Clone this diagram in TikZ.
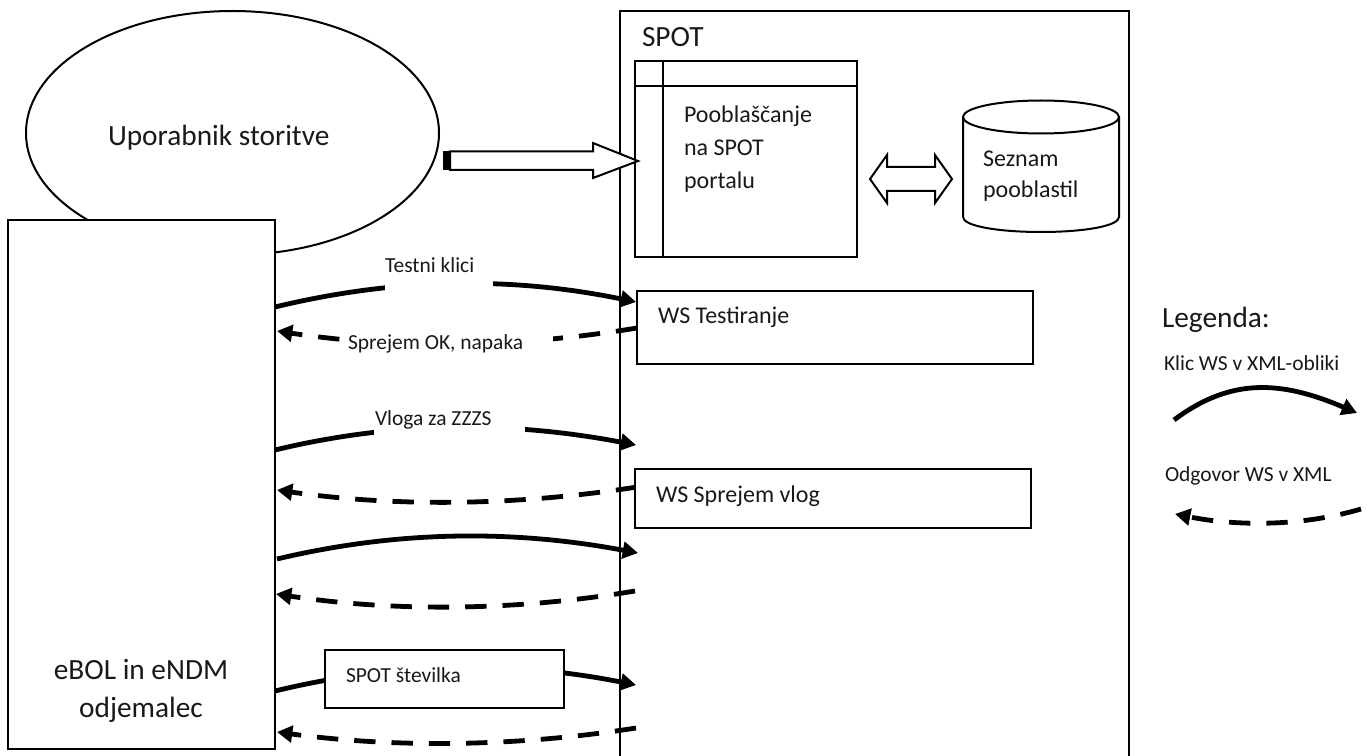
\documentclass[tikz,border=0pt]{standalone}
\usepackage{fontspec}
\setmainfont{Carlito}
\usetikzlibrary{arrows.meta}
\tikzset{
  x=0.75pt,y=-0.75pt,
  shp/.style={draw=black,line width=1.5pt,fill=white},
  boxn/.style={shp,rectangle,anchor=north west,inner sep=0pt,outer sep=0pt},
  lbl/.style={anchor=base west,inner sep=0pt,outer sep=0pt,text=black!90},
  big/.style={lbl,font=\fontsize{22}{22}\selectfont},
  mid/.style={lbl,font=\fontsize{18}{18}\selectfont},
  sml/.style={lbl,font=\fontsize{16.1}{16.1}\selectfont},
  call/.style={line width=3.6pt,-{Triangle[length=11.5pt,width=12.5pt]}},
  resp/.style={line width=3.6pt,dash pattern=on 16pt off 12pt,-{Triangle[length=11.5pt,width=12.5pt]}},
  cover/.style={fill=white,draw=none},
}
\newcommand{\boxat}[5]{\node[boxn,minimum width={(#4-#2)*0.75pt},minimum height={(#5-#3)*0.75pt}] (#1) at (#2,#3) {};}
\begin{document}
\begin{tikzpicture}
\useasboundingbox (0,0) rectangle (1367,756);
\fill[white] (0,0) rectangle (1367,756);
% outer SPOT frame, open at the bottom
\draw[shp,fill=none] (620,756) -- (620,11) -- (1129,11) -- (1129,756);
% user ellipse and client box
\draw[shp] (232.5,133) ellipse [x radius=206.5,y radius=122];
\boxat{client}{8}{220}{275}{749}
\node[big] (tuser) at (108,145.5) {Uporabnik storitve};
\node[big,anchor=base] (tclienta) at (141,679) {eBOL in eNDM};
\node[big,anchor=base] (tclientb) at (141,717) {odjemalec};
% coordinates of connectors
\coordinate (a1) at (275,307); \coordinate (b1) at (636,302);
\coordinate (a2) at (637,328); \coordinate (b2) at (277,331);
\coordinate (a3) at (275,450); \coordinate (b3) at (636,445);
\coordinate (a4) at (637,487); \coordinate (b4) at (277,490);
\coordinate (a5) at (277,559); \coordinate (b5) at (638,553);
\coordinate (a6) at (635,591); \coordinate (b6) at (276,594);
\coordinate (a7) at (275,691); \coordinate (b7) at (636,685);
\coordinate (a8) at (636,728); \coordinate (b8) at (277,732);
\coordinate (la) at (1174,420); \coordinate (lb) at (1357,413);
\coordinate (ra) at (1361,509); \coordinate (rb) at (1175,514);
% curves
\draw[call] (a1) .. controls (395,278) and (510,276) .. (b1);
\draw[resp] (a2) .. controls (515,348) and (395,349) .. (b2);
\draw[call] (a3) .. controls (395,421) and (510,421) .. (b3);
\draw[resp] (a4) .. controls (515,506) and (395,507) .. (b4);
\draw[call] (a5) .. controls (395,531) and (510,529) .. (b5);
\draw[resp] (a6) .. controls (515,611) and (395,612) .. (b6);
\draw[call] (a7) .. controls (395,662) and (510,660) .. (b7);
\draw[resp] (a8) .. controls (515,747) and (395,748) .. (b8);
\draw[call] (la) .. controls (1230,378) and (1280,380) .. (lb);
\draw[resp] (ra) .. controls (1300,527) and (1235,526) .. (rb);
% label covers and labels
\fill[cover] (385,255) rectangle (493,296);
\fill[cover] (341,333) rectangle (553,362);
\fill[cover] (374,400) rectangle (525,440);
\node[sml] (ttest) at (385,272) {Testni klici};
\node[sml] (tok) at (348,349) {Sprejem OK, napaka};
\node[sml] (tvloga) at (375,425) {Vloga za ZZZS};
\boxat{spotnum}{325}{650}{564}{708}
\node[sml] (tspotnum) at (346,682) {SPOT številka};
% SPOT contents
\node[big] (tspot) at (642,47) {SPOT};
\boxat{portal}{635}{61}{857}{257}
\draw[shp,fill=none] (635,86) -- (857,86);
\draw[shp,fill=none] (663,61) -- (663,257);
\node[mid] (tp1) at (684,123) {Pooblaščanje};
\node[mid] (tp2) at (684,156) {na SPOT};
\node[mid] (tp3) at (684,189) {portalu};
% cylinder
\draw[shp] (963,117) -- (963,217) .. controls (963,226) and (998,232) .. (1041,232) .. controls (1084,232) and (1119,226) .. (1119,217) -- (1119,117);
\draw[shp] (1041,117) ellipse [x radius=78,y radius=16.5];
\node[mid] (ts1) at (983,167) {Seznam};
\node[mid] (ts2) at (983,198) {pooblastil};
% services
\boxat{wst}{637}{291}{1033}{364}
\node[mid] (twst) at (658,323) {WS Testiranje};
\boxat{wss}{635}{468.5}{1031}{528}
\node[mid] (twss) at (656,502) {WS Sprejem vlog};
% block arrows
\draw[shp] (450,151.5) -- (593,151.5) -- (593,143) -- (638,161) -- (593,178) -- (593,170) -- (450,170) -- cycle;
\fill[black] (443,151) rectangle (450,170.5);
\draw[shp] (870,179) -- (887,155) -- (887,167) -- (935,167) -- (935,155) -- (952,179) -- (935,203) -- (935,191) -- (887,191) -- (887,203) -- cycle;
% legend
\node[big] (tleg) at (1162,327) {Legenda:};
\node[sml] (tklic) at (1164,370) {Klic WS v XML-obliki};
\node[sml] (todg) at (1165,481) {Odgovor WS v XML};
\end{tikzpicture}
\end{document}
